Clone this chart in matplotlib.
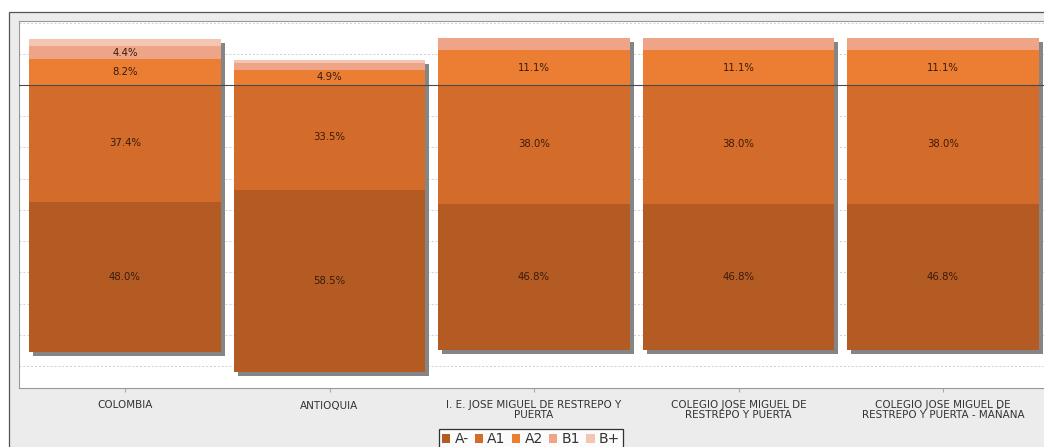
import numpy as np
import matplotlib
matplotlib.use('Agg')
import matplotlib.pyplot as plt
from matplotlib.patches import Rectangle
from matplotlib.transforms import ScaledTranslation

# niveles de desempeno en ingles, porcentaje por entidad
categorias = ['COLOMBIA', 'ANTIOQUIA', 'I. E. JOSE MIGUEL DE RESTREPO Y\nPUERTA',
              'COLEGIO JOSE MIGUEL DE\nRESTREPO Y PUERTA',
              'COLEGIO JOSE MIGUEL DE\nRESTREPO Y PUERTA - MAÑANA']
a_menos = [48.0, 58.5, 46.8, 46.8, 46.8]
a1 = [37.4, 33.5, 38.0, 38.0, 38.0]
a2 = [8.2, 4.9, 11.1, 11.1, 11.1]
b1 = [4.4, 2.2, 4.1, 4.1, 4.1]
b_mas = [2.0, 0.9, 0.0, 0.0, 0.0]

colores = {'A-': '#b35b23', 'A1': '#d36b2b', 'A2': '#ec7e33',
           'B1': '#eea486', 'B+': '#f4c5b2'}
umbral_etiqueta = 4.3

fig = plt.figure(figsize=(10.44, 4.47), dpi=100)
fig.patch.set_facecolor('white')
# marco gris exterior
fig.patches.append(Rectangle((9 / 1044, -0.01), 1.0, 1 - 12 / 447 + 0.01,
                             transform=fig.transFigure, facecolor='#ececec',
                             edgecolor='#555555', linewidth=0.9, zorder=-1))

ax = fig.add_axes([19 / 1044, 59 / 447, 1.0, 1 - 80 / 447])
ax.set_facecolor('white')
ax.set_zorder(1)

x = np.arange(len(categorias))
ancho = 0.934
a_menos = np.array(a_menos)
a1 = np.array(a1)
a2 = np.array(a2)
b1 = np.array(b1)
b_mas = np.array(b_mas)

# sombra de cada barra
base = -(a_menos + a1)
total = a_menos + a1 + a2 + b1 + b_mas
sombra = ScaledTranslation(4 / 100, -4 / 100, fig.dpi_scale_trans)
ax.bar(x, total, ancho, bottom=base, color='#858585', linewidth=0,
       transform=ax.transData + sombra, zorder=2)

# segmentos negativos y positivos alrededor de cero
segmentos = [('A-', a_menos, -(a_menos + a1)),
             ('A1', a1, -a1),
             ('A2', a2, np.zeros_like(a2)),
             ('B1', b1, a2),
             ('B+', b_mas, a2 + b1)]
for nombre, valores, inicio in segmentos:
    ax.bar(x, valores, ancho, bottom=inicio, color=colores[nombre],
           linewidth=0, label=nombre, zorder=3)
    for xi, v, s in zip(x, valores, inicio):
        if v >= umbral_etiqueta:
            ax.text(xi, s + v / 2, f'{v:.1f}%', ha='center', va='center',
                    fontsize=7.3, color='#3a1b0c', zorder=5)

ax.axhline(0, color='#4a4a4a', linewidth=0.8, zorder=4)
for g in range(-90, 21, 10):
    if g != 0:
        ax.axhline(g, color='#d0d0d0', linewidth=0.7, linestyle=(0, (2, 2)),
                   zorder=1)

ax.set_xlim((19 - 125) / 204.5, (1063 - 125) / 204.5)
ax.set_ylim(-97, 20.5)
ax.set_yticks([])
ax.set_xticks(x)
ax.set_xticklabels(categorias, fontsize=7.5, color='#333333', linespacing=1.0)
ax.tick_params(axis='x', length=3, color='#aaaaaa', pad=6)
for lado in ['left', 'top', 'bottom']:
    ax.spines[lado].set_color('#999999')
    ax.spines[lado].set_linewidth(0.8)
ax.spines['right'].set_visible(False)

leg = fig.legend(loc='upper center', bbox_to_anchor=(531 / 1044, 1 - 429 / 447),
                 ncol=5, fontsize=10, frameon=True, fancybox=False,
                 edgecolor='black', handlelength=0.6, handleheight=0.6,
                 handletextpad=0.3, columnspacing=0.45, borderpad=0.25,
                 borderaxespad=0)
leg.get_frame().set_linewidth(0.9)
for t in leg.get_texts():
    t.set_color('#333333')

fig.savefig('out.png', dpi=100)
